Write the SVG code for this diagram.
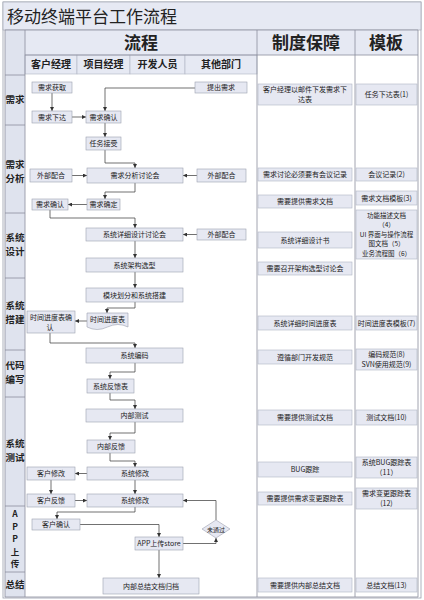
<svg xmlns="http://www.w3.org/2000/svg" width="424" height="600" viewBox="0 0 424 600">
<defs>
<marker id="ar" viewBox="0 0 10 10" refX="10" refY="5" markerWidth="4" markerHeight="4" markerUnits="userSpaceOnUse" orient="auto"><path d="M0 0L10 5L0 10Z" fill="#333"/></marker>
<style>
text{font-family:"Noto Sans CJK SC","Liberation Sans",sans-serif;fill:#222}
.n rect,.n path{fill:#e6e8f2;stroke:#9ca0ae;stroke-width:0.6}
.n text{font-size:7px;text-anchor:middle}
.r rect{fill:#e6e8f2;stroke:#b0b4c2;stroke-width:0.6}
.r text{font-size:7px;text-anchor:middle}
.c path{fill:none;stroke:#333;stroke-width:0.7;marker-end:url(#ar)}
.hd{font-weight:bold;font-size:17px;text-anchor:middle}
.sh{font-weight:bold;font-size:10px;text-anchor:middle}
.lb{font-weight:bold;font-size:9.5px;text-anchor:middle}
.g{stroke:#8a8e9c;stroke-width:0.8;fill:none}
</style>
</defs>
<rect x="0" y="0" width="424" height="600" fill="#fff"/>
<g id="frame">
<rect x="3" y="2" width="418" height="596" fill="#fff" stroke="#9a9eac" stroke-width="0.8"/>
<rect x="3" y="2" width="418" height="28" fill="#e6e9f3" stroke="#9a9eac" stroke-width="0.6"/>
<text x="7" y="23" font-size="17">移动终端平台工作流程</text>
<rect x="5" y="30" width="20" height="567" fill="#dfe3ee"/>
<rect x="25" y="30" width="232" height="25" fill="#e6e9f3"/>
<rect x="257" y="30" width="98" height="25" fill="#e6e9f3"/>
<rect x="355" y="30" width="63" height="25" fill="#e6e9f3"/>
<rect x="25" y="55" width="52" height="19" fill="#e6e9f3" stroke="#b0b4c2" stroke-width="0.6"/>
<rect x="77" y="55" width="53" height="19" fill="#e6e9f3" stroke="#b0b4c2" stroke-width="0.6"/>
<rect x="130" y="55" width="55" height="19" fill="#e6e9f3" stroke="#b0b4c2" stroke-width="0.6"/>
<rect x="185" y="55" width="72" height="19" fill="#e6e9f3" stroke="#b0b4c2" stroke-width="0.6"/>
<text class="hd" x="141" y="49">流程</text>
<text class="hd" x="306" y="49">制度保障</text>
<text class="hd" x="386" y="49">模板</text>
<text class="sh" x="51" y="68">客户经理</text>
<text class="sh" x="103.5" y="68">项目经理</text>
<text class="sh" x="157.5" y="68">开发人员</text>
<text class="sh" x="221" y="68" font-size="9">其他部门</text>
<path class="g" d="M5 30V597M25 30V597M257 30V597M355 30V597M418 30V597M5 30H418M25 55H418M5 597H418"/>
<path class="g" d="M5 75H25M5 125H25M5 213H25M5 278H25M5 350H25M5 397H25M5 506H25M5 572H25"/>
<text class="lb" x="15" y="103">需求</text>
<text class="lb" x="15" y="168">需求<tspan x="15" dy="14">分析</tspan></text>
<text class="lb" x="15" y="241">系统<tspan x="15" dy="14">设计</tspan></text>
<text class="lb" x="15" y="309">系统<tspan x="15" dy="14">搭建</tspan></text>
<text class="lb" x="15" y="369">代码<tspan x="15" dy="14">编写</tspan></text>
<text class="lb" x="15" y="447">系统<tspan x="15" dy="14">测试</tspan></text>
<text class="lb" x="15" y="517" style="font-size:8.5px">A<tspan x="15" dy="12.5">P</tspan><tspan x="15" dy="12.5">P</tspan><tspan x="15" dy="12.5">上</tspan><tspan x="15" dy="12.5">传</tspan></text>
<text class="lb" x="15" y="588">总结</text>
</g>
<g class="c" id="connectors">
<path d="M52 93V111"/>
<path d="M72 117H86"/>
<path d="M195 88H105V111"/>
<path d="M105 123V137"/>
<path d="M105 150V163H135V168"/>
<path d="M72 175.5H87"/>
<path d="M197 175.5H183"/>
<path d="M135 183V192H105V199"/>
<path d="M87 204.5H68"/>
<path d="M50 210V218H135V228"/>
<path d="M197 234.5H183"/>
<path d="M135 241V258"/>
<path d="M135 272V288"/>
<path d="M135 302V308H107V313"/>
<path d="M87 321H75"/>
<path d="M50 332V343H135V348"/>
<path d="M135 363V372H110V379"/>
<path d="M110 393V400H135V409"/>
<path d="M135 422V433H110V440"/>
<path d="M110 453V461H135V467"/>
<path d="M87 473.5H75"/>
<path d="M51 480V494"/>
<path d="M135 480V494"/>
<path d="M75 500.5H87"/>
<path d="M216 520V500.5H183"/>
<path d="M135 507V512H57V519"/>
<path d="M80 524.5H159V537"/>
<path d="M183 543.5H216V538"/>
<path d="M159 550V578"/>
</g>
<g id="n1" class="n"><rect x="32" y="82" width="40" height="11"/><text x="52" y="90">需求获取</text></g>
<g id="n2" class="n"><rect x="195" y="82" width="52" height="11"/><text x="221" y="90">提出需求</text></g>
<g id="n3" class="n"><rect x="32" y="111" width="40" height="12"/><text x="52" y="119.5">需求下达</text></g>
<g id="n4" class="n"><rect x="86" y="111" width="35" height="12"/><text x="103.5" y="119.5">需求确认</text></g>
<g id="n5" class="n"><rect x="86" y="137" width="35" height="13"/><text x="103.5" y="146">任务接受</text></g>
<g id="n6" class="n"><rect x="30" y="169" width="42" height="13"/><text x="51" y="178">外部配合</text></g>
<g id="n7" class="n"><rect x="87" y="168" width="96" height="15"/><text x="135" y="178">需求分析讨论会</text></g>
<g id="n8" class="n"><rect x="197" y="169" width="49" height="13"/><text x="221.5" y="178">外部配合</text></g>
<g id="n9" class="n"><rect x="87" y="199" width="33" height="11"/><text x="103.5" y="207">需求确定</text></g>
<g id="n10" class="n"><rect x="32" y="199" width="36" height="11"/><text x="50" y="207">需求确认</text></g>
<g id="n11" class="n"><rect x="86" y="228" width="97" height="13"/><text x="134.5" y="237">系统详细设计讨论会</text></g>
<g id="n12" class="n"><rect x="197" y="229" width="49" height="11"/><text x="221.5" y="237">外部配合</text></g>
<g id="n13" class="n"><rect x="86" y="258" width="97" height="14"/><text x="134.5" y="267.5">系统架构选型</text></g>
<g id="n14" class="n"><rect x="86" y="288" width="97" height="14"/><text x="134.5" y="297.5">模块划分和系统搭建</text></g>
<g id="n15" class="n"><path d="M87 313H128V327Q118 322 107.5 327Q97 332 87 327Z"/><text x="107.5" y="322">时间进度表</text></g>
<g id="n16" class="n"><rect x="27" y="311" width="48" height="22"/><text x="51" y="319.5">时间进度表确<tspan x="50" dy="10.3">认</tspan></text></g>
<g id="n17" class="n"><rect x="86" y="348" width="97" height="15"/><text x="134.5" y="358">系统编码</text></g>
<g id="n18" class="n"><rect x="87" y="379" width="47" height="14"/><text x="110.5" y="388.5">系统反馈表</text></g>
<g id="n19" class="n"><rect x="86" y="409" width="97" height="13"/><text x="134.5" y="418">内部测试</text></g>
<g id="n20" class="n"><rect x="87" y="440" width="48" height="13"/><text x="111" y="449">内部反馈</text></g>
<g id="n21" class="n"><rect x="87" y="467" width="96" height="13"/><text x="135" y="476">系统修改</text></g>
<g id="n22" class="n"><rect x="27" y="467" width="48" height="13"/><text x="51" y="476">客户修改</text></g>
<g id="n23" class="n"><rect x="27" y="494" width="48" height="13"/><text x="51" y="503">客户反馈</text></g>
<g id="n24" class="n"><rect x="87" y="494" width="96" height="13"/><text x="135" y="503">系统修改</text></g>
<g id="n25" class="n"><rect x="32" y="519" width="48" height="11"/><text x="56" y="527">客户确认</text></g>
<g id="n26" class="n"><rect x="135" y="537" width="48" height="13"/><text x="159" y="546">APP上传store</text></g>
<g id="n27" class="n"><path d="M216 520L230 529L216 538L202 529Z"/><text x="216" y="531.5" style="font-size:6px">未通过</text></g>
<g id="n28" class="n"><rect x="103" y="578" width="96" height="16"/><text x="151" y="588.5">内部总结文档归档</text></g>
<g id="r1" class="r"><rect x="258" y="84" width="94" height="21"/><text x="305" y="91.5">客户经理以邮件下发需求下<tspan x="305" dy="10.3">达表</tspan></text></g>
<g id="t1" class="r"><rect x="356" y="84" width="61" height="21"/><text x="386.5" y="97">任务下达表(1)</text></g>
<g id="r2" class="r"><rect x="258" y="168" width="94" height="13"/><text x="305" y="177">需求讨论必须要有会议记录</text></g>
<g id="t2" class="r"><rect x="356" y="168" width="61" height="13"/><text x="386.5" y="177">会议记录(2)</text></g>
<g id="r3" class="r"><rect x="258" y="195" width="94" height="13"/><text x="305" y="204">需要提供需求文档</text></g>
<g id="t3" class="r"><rect x="356" y="191" width="61" height="14"/><text x="386.5" y="200.5">需求文档模板(3)</text></g>
<g id="t4" class="r"><rect x="356" y="210" width="61" height="49"/><text x="386.5" y="217.5" style="font-size:6.5px">功能描述文档<tspan x="386.5" dy="9.5">（4）</tspan><tspan x="386.5" dy="9.5">UI 界面与操作流程</tspan><tspan x="386.5" dy="9.5">图文档（5）</tspan><tspan x="386.5" dy="9.5">业务流程图（6）</tspan></text></g>
<g id="r4" class="r"><rect x="258" y="232" width="94" height="16"/><text x="305" y="242.5">系统详细设计书</text></g>
<g id="r5" class="r"><rect x="258" y="262" width="94" height="13"/><text x="305" y="271">需要召开架构选型讨论会</text></g>
<g id="r6" class="r"><rect x="258" y="316" width="94" height="14"/><text x="305" y="325.5">系统详细时间进度表</text></g>
<g id="t6" class="r"><rect x="356" y="316" width="61" height="14"/><text x="386.5" y="325.5">时间进度表模板(7)</text></g>
<g id="r7" class="r"><rect x="258" y="350" width="94" height="14"/><text x="305" y="359.5">遵循部门开发规范</text></g>
<g id="t7" class="r"><rect x="356" y="349" width="61" height="21"/><text x="386.5" y="357">编码规范(8)<tspan x="386.5" dy="10.3">SVN使用规范(9)</tspan></text></g>
<g id="r8" class="r"><rect x="258" y="410" width="94" height="15"/><text x="305" y="420">需要提供测试文档</text></g>
<g id="t8" class="r"><rect x="356" y="410" width="61" height="15"/><text x="386.5" y="420">测试文档(10)</text></g>
<g id="r9" class="r"><rect x="258" y="462" width="94" height="15"/><text x="305" y="472">BUG跟踪</text></g>
<g id="t9" class="r"><rect x="356" y="457" width="61" height="21"/><text x="386.5" y="465">系统BUG跟踪表<tspan x="386.5" dy="10.3">（11）</tspan></text></g>
<g id="r10" class="r"><rect x="258" y="492" width="94" height="13"/><text x="305" y="501">需要提供需求变更跟踪表</text></g>
<g id="t10" class="r"><rect x="356" y="488" width="61" height="21"/><text x="386.5" y="496">需求变更跟踪表<tspan x="386.5" dy="10.3">(12)</tspan></text></g>
<g id="r11" class="r"><rect x="258" y="578" width="94" height="14"/><text x="305" y="587.5">需要提供内部总结文档</text></g>
<g id="t11" class="r"><rect x="356" y="578" width="61" height="14"/><text x="386.5" y="587.5">总结文档(13)</text></g>
</svg>
